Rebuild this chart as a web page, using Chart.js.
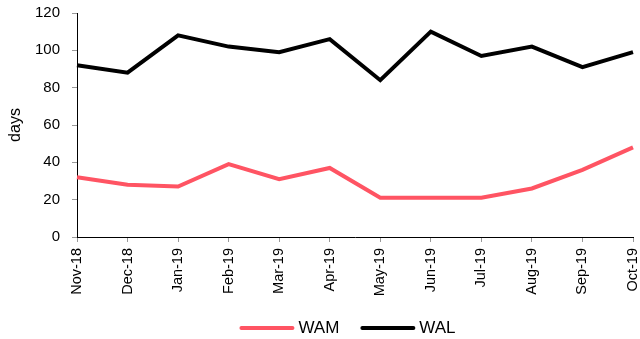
<!DOCTYPE html>
<html>
<head>
<meta charset="utf-8">
<script src="https://cdn.jsdelivr.net/npm/chart.js@4"></script>
<style>
  html, body { margin: 0; padding: 0; background: #fff; }
  #wrap { width: 640px; height: 339px; position: relative; }
</style>
</head>
<body>
<div id="wrap"><canvas id="c" width="640" height="339"></canvas></div>
<script>
// Monthly fund maturity metrics (days)
const months = ['Nov-18','Dec-18','Jan-19','Feb-19','Mar-19','Apr-19','May-19','Jun-19','Jul-19','Aug-19','Sep-19','Oct-19'];
const wam = [32, 28, 27, 39, 31, 37, 21, 21, 21, 26, 36, 48];
const wal = [92, 88, 108, 102, 99, 106, 84, 110, 97, 102, 91, 99];
const yTicks = [0, 20, 40, 60, 80, 100, 120];

const FONT = "'Liberation Sans', Arial, sans-serif";
const RED = '#FF5463';
const BLACK = '#000000';

// Legend row under the axis: short thick line + series name
const lineLegend = {
  id: 'lineLegend',
  afterDraw(chart) {
    const ctx = chart.ctx;
    const sets = chart.data.datasets;
    const lineLen = 53, gapText = 5, gapItem = 22, y = 328;
    ctx.save();
    ctx.font = '17px ' + FONT;
    ctx.textBaseline = 'middle';
    const widths = sets.map(ds => ctx.measureText(ds.label).width);
    const total = widths.reduce((a, w) => a + lineLen + gapText + w, 0) + gapItem * (sets.length - 1);
    let x = 348 - total / 2;
    sets.forEach((ds, i) => {
      ctx.strokeStyle = ds.borderColor;
      ctx.lineWidth = 4;
      ctx.lineCap = 'round';
      ctx.beginPath();
      ctx.moveTo(x + 1, y);
      ctx.lineTo(x + lineLen - 1, y);
      ctx.stroke();
      x += lineLen + gapText;
      ctx.fillStyle = '#000';
      ctx.fillText(ds.label, x, y);
      x += widths[i] + gapItem;
    });
    ctx.restore();
  }
};

new Chart(document.getElementById('c'), {
  type: 'line',
  data: {
    labels: months,
    datasets: [
      { label: 'WAM', data: wam, borderColor: RED, backgroundColor: RED, borderWidth: 4, pointRadius: 0, tension: 0, fill: false },
      { label: 'WAL', data: wal, borderColor: BLACK, backgroundColor: BLACK, borderWidth: 4, pointRadius: 0, tension: 0, fill: false }
    ]
  },
  plugins: [lineLegend],
  options: {
    responsive: false,
    animation: false,
    layout: { padding: { top: 13, right: 0, left: 0, bottom: 0 } },
    plugins: {
      tooltip: { enabled: false },
      legend: { display: false }
    },
    scales: {
      x: {
        offset: false,
        afterFit(scale) { scale.height = 102; scale.paddingRight = 7; scale.paddingLeft = 0; },
        grid: { display: true, drawOnChartArea: false, drawTicks: true, tickLength: 5, color: '#999' },
        border: { display: true, color: '#000', width: 1 },
        ticks: { font: { family: FONT, size: 14.5 }, color: '#000', minRotation: 90, maxRotation: 90, padding: 6, autoSkip: false }
      },
      y: {
        min: 0,
        max: 120,
        afterBuildTicks(scale) { scale.ticks = yTicks.map(v => ({ value: v })); },
        afterFit(scale) { scale.width = 77; scale.paddingTop = 0; scale.paddingBottom = 0; },
        grid: { display: true, drawOnChartArea: false, drawTicks: true, tickLength: 5, color: '#999' },
        border: { display: true, color: '#000', width: 1 },
        ticks: { font: { family: FONT, size: 15 }, color: '#000', padding: 12 },
        title: { display: true, text: 'days', font: { family: FONT, size: 16 }, color: '#000', padding: { top: 6, bottom: 0 } }
      }
    }
  }
});
</script>
</body>
</html>
